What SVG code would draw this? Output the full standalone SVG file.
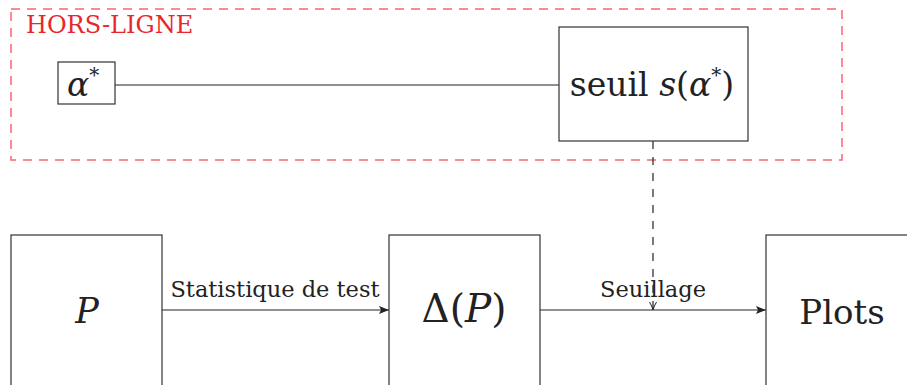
<svg xmlns="http://www.w3.org/2000/svg" width="907" height="385" viewBox="0 0 907 385">
<style>
.box{fill:#fff;stroke:#333;stroke-width:1.2}
.t{fill:#222}
.i{font-style:italic}
.edge{stroke:#222;stroke-width:1.2;fill:none}
</style>
<defs>
<marker id="ah" viewBox="0 0 10 8" refX="10" refY="4" markerWidth="10" markerHeight="8" markerUnits="userSpaceOnUse" orient="auto">
<path d="M0,0 L10,4 L0,8 L2,4 Z" fill="#222"/>
</marker>
<marker id="oh" viewBox="0 0 10 8" refX="9" refY="4" markerWidth="10" markerHeight="8" markerUnits="userSpaceOnUse" orient="auto">
<path d="M1,0.5 Q5,3 9,4 Q5,5 1,7.5" fill="none" stroke="#222" stroke-width="1"/>
</marker>
</defs>
<g font-family="'DejaVu Serif', serif">
<g id="offline">
<rect x="11" y="9" width="831" height="151" fill="none" stroke="#f26a72" stroke-width="1.5" stroke-dasharray="9 7"/>
<text x="26" y="33" fill="#e8262e" font-size="24">HORS-LIGNE</text>
</g>
<g id="connectors">
<line x1="115" y1="85" x2="559" y2="85" class="edge"/>
<line x1="653" y1="141" x2="653" y2="310" class="edge" stroke-dasharray="8 8" marker-end="url(#oh)"/>
<line x1="162" y1="310" x2="389" y2="310" class="edge" marker-end="url(#ah)"/>
<line x1="540" y1="310" x2="766" y2="310" class="edge" marker-end="url(#ah)"/>
<text x="275" y="297" class="t" font-size="22.5" text-anchor="middle">Statistique de test</text>
<text x="653" y="297" class="t" font-size="22.5" text-anchor="middle">Seuillage</text>
</g>
<g id="alpha">
<rect x="58" y="62" width="57" height="42" class="box"/>
<text x="67" y="96" class="t" font-size="33"><tspan class="i">α</tspan><tspan font-size="20" dy="-14">*</tspan></text>
</g>
<g id="seuil">
<rect x="559" y="27" width="189" height="114" class="box"/>
<text x="652" y="96" class="t" font-size="33" text-anchor="middle">seuil <tspan class="i">s</tspan>(<tspan class="i">α</tspan><tspan font-size="20" dy="-14">*</tspan><tspan dy="14">)</tspan></text>
</g>
<g id="P">
<rect x="11" y="235" width="151" height="160" class="box"/>
<text x="87" y="323" class="t i" font-size="35" text-anchor="middle">P</text>
</g>
<g id="delta">
<rect x="389" y="235" width="151" height="160" class="box"/>
<text x="464" y="322" class="t" font-size="39" text-anchor="middle">Δ(<tspan class="i">P</tspan>)</text>
</g>
<g id="plots">
<rect x="766" y="235" width="151" height="160" class="box"/>
<text x="842" y="324" class="t" font-size="34" text-anchor="middle">Plots</text>
</g>
</g>
</svg>
